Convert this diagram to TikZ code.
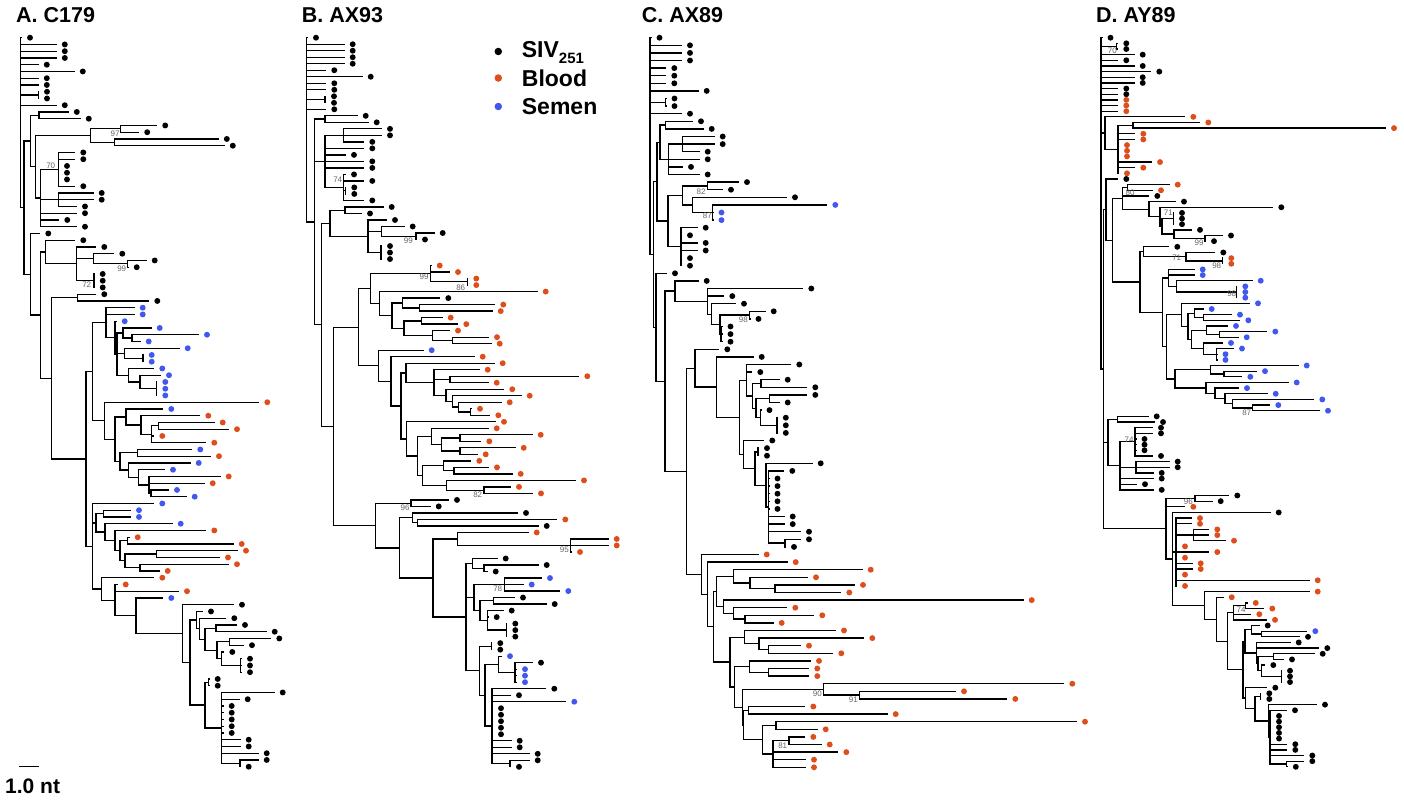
\documentclass[tikz,border=0pt]{standalone}
\usepackage{fontspec}
\setmainfont{Liberation Sans}
\usepackage{xcolor}
\usepackage{tikz}
\usetikzlibrary{positioning}

\definecolor{siv}{RGB}{0,0,0}
\definecolor{bld}{RGB}{222,78,28}
\definecolor{smn}{RGB}{64,88,238}

% leaf: attach x, row, tip x, colour
\newcommand\leafat[4]{%
  \draw[br] (#1,#2) -- (#3,#2);
  \fill[#4] (#3,#2) ++(8.5,0) circle (2.95pt);}
% clade: x, first row, last row, parent x
\newcommand\cladeat[4]{%
  \draw[br] (#1,#2) -- (#1,#3);
  \draw[br] (#4,{(#2+#3)/2}) -- (#1,{(#2+#3)/2});}

\begin{document}
\begin{tikzpicture}[
    x=1pt, y=1pt,
    br/.style={line width=1.3pt, line cap=rect},
    ttl/.style={anchor=base west, inner sep=0, font=\bfseries\fontsize{21.5}{24}\selectfont},
    lgd/.style={anchor=base west, inner sep=0, font=\bfseries\fontsize{23}{26}\selectfont},
    bs/.style={inner sep=0, text=black!60, font=\fontsize{8}{9}\selectfont},
    dot/.style={circle, inner sep=0, minimum size=7.5pt}
  ]
  \fill[white] (0,0) rectangle (1404,-800);
  \useasboundingbox (0,0) rectangle (1404,-800);

  % titles
  \node[ttl] (tA) at (16,-22.7) {A. C179};
  \node[ttl] (tB) at (301.7,-22.7) {B. AX93};
  \node[ttl] (tC) at (641.7,-22.7) {C. AX89};
  \node[ttl] (tD) at (1096,-22.7) {D. AY89};

  % legend
  \node[dot, fill=siv] (dSiv) at (498.3,-51.5) {};
  \node[dot, fill=bld] (dBld) at (498.3,-78) {};
  \node[dot, fill=smn] (dSmn) at (498.3,-106.5) {};
  \node[lgd] (lSiv) at (521.7,-57.3) {SIV\raisebox{-0.28em}{\fontsize{15}{15}\selectfont 251}};
  \node[lgd] (lBld) at (521.7,-86) {Blood};
  \node[lgd] (lSmn) at (521.7,-114.3) {Semen};

  % scale bar
  \coordinate (sb1) at (20,-766.7);
  \coordinate (sb2) at (38.3,-766.7);
  \draw[br] (sb1) -- (sb2);
  \node[anchor=base west, inner sep=0, font=\bfseries\fontsize{21}{24}\selectfont] (sbl) at (5,-793.3) {1.0 nt};

  % A. C179
  \begin{scope}[y=-6.75pt, yshift=-37.7pt]
    \draw[br] (20.7,0) -- (20.7,25.18);
    \foreach \x/\t/\b/\p in {38.3/8/9/20.7, 39/11/12/30.7, 120.7/13/14/90.7, 114.3/15/16/90.7, 90.7/13.5/15.5/35.7, 58.3/17/22/40.7, 58.3/23/25/40.7, 40.7/19.5/28/35.7, 35.7/14.5/23.75/30.7, 30.7/11.5/19.125/24,
      127.3/33/34/93.3, 94/35/37/76.7, 93.3/32/33.5/76.7, 76.7/31/36/45.7, 45.7/30/33.5/40.7, 77.3/38/39/51.7,
      132/44/45/123, 123/43/44.5/117, 143/47/48/124.7, 124.7/46/47.5/117, 156.7/51/53/140, 140/50/52/128.3, 128.3/49/51/117, 117/43.75/50/115, 115/42/46.875/106, 106/40/44.44/92.7,
      158.3/57/58/151.7, 151.7/57.5/60/141, 141/56/58.75/126, 126/55/57.375/115, 137.7/61/62/120, 151/67/68/149, 149/65/67.5/138.3, 138.3/64/66.25/128.3, 128.3/63/65.125/120, 120/61.5/64.06/115, 115/56.19/62.78/104.3, 104.3/54/59.48/92.7, 92.7/42.22/56.74/86,
      103.3/70/71/96, 127.7/74/75/120, 156.7/76/77/125, 140/78/79/125, 125/76.5/78.5/120, 120/74.5/77.5/115, 115/73/76/105, 105/72/74.5/96, 96/70.5/73.25/92.7,
      208.3/95/96/205, 240/107/108/221.7, 240.7/92/94/221.7, 221.7/91/93/217, 229.3/89/90/217, 217/89.5/92/205, 216/87/88/205, 205/87.5/90.75/199.3, 199.3/86/89.125/196.7, 196.7/85/87.56/190, 221.7/97/107.5/205, 205/95.5/102.25/190, 190/86.28/98.875/182.7, 182.7/84/92.58/136, 136/83/88.29/115, 115/81/85.65/101.7, 101.7/80/83.32/92.7, 92.7/69/81.66/86, 86/49.48/75.33/51.7, 51.7/38.5/62.4/40.7, 40.7/31.75/50.45/30.7, 30.7/29/41.1/24, 24/15.31/35.05/20.7}
      {\cladeat{\x}{\t}{\b}{\p}}
    \foreach \r/\a/\t/\c in {0/20.7/21.5/siv, 1/20.7/56.3/siv, 2/20.7/56.3/siv, 3/20.7/56.3/siv, 4/20.7/38.3/siv, 5/20.7/74.3/siv, 6/20.7/38.3/siv, 7/20.7/38.3/siv, 8/38.3/38.5/siv, 9/38.3/38.5/siv, 10/20.7/56.3/siv,
      11/39/68.3/siv, 12/39/80.3/siv, 13/120.7/156.7/siv, 14/120.7/138.7/siv, 15/114.3/218.3/siv, 16/114.3/224.3/siv,
      17/58.3/74.8/siv, 18/58.3/74.8/siv, 19/58.3/58.5/siv, 20/58.3/58.5/siv, 21/58.3/58.5/siv, 22/58.3/74.8/siv,
      23/58.3/93.2/siv, 24/58.3/93.2/siv, 25/58.3/76.5/siv, 26/40.7/76.5/siv, 27/40.7/58.8/siv, 28/40.7/76.5/siv,
      29/30.7/39.8/siv, 30/45.7/74.8/siv, 31/76.7/95.8/siv, 32/93.3/113.8/siv, 33/127.3/146.2/siv, 34/127.3/128.2/siv,
      35/94/94.2/siv, 36/94/94.2/siv, 37/94/94.2/siv, 38/77.3/95.8/siv, 39/77.3/148.8/siv,
      40/106/134.2/smn, 41/106/134.2/smn, 42/115/116.2/smn, 43/123/151.2/smn, 44/132/198.5/smn, 45/132/140.2/smn, 46/124.7/179.2/smn, 47/143/143.2/smn, 48/143/143.2/smn, 49/128.3/153.8/smn, 50/140/160.5/smn, 51/156.7/156.8/smn, 52/156.7/156.8/smn, 53/156.7/156.8/smn,
      54/104.3/258.8/bld, 55/126/162.8/smn, 56/141/199.8/bld, 57/158.3/214.2/bld, 58/158.3/228.5/bld, 59/151.7/153.8/bld, 60/151.7/205.8/bld, 61/137.7/191.8/smn, 62/137.7/210.5/bld, 63/128.3/190.2/smn, 64/138.3/164.5/smn, 65/149/220.2/bld, 66/149/204.2/bld, 67/151/168.5/smn, 68/151/186.2/smn,
      69/92.7/153.8/smn, 70/103.3/130.5/smn, 71/103.3/130.5/smn, 72/105/172.2/smn, 73/115/205.8/bld, 74/127.7/129.2/bld, 75/127.7/233.2/bld, 76/156.7/237.5/bld, 77/156.7/219.5/bld, 78/140/228.5/bld, 79/140/159.2/bld, 80/101.7/153.8/bld, 81/115/117.2/bld, 82/115/178.5/bld, 83/136/162.8/smn,
      84/182.7/233.5/siv, 85/196.7/202.5/siv, 86/199.3/225.8/siv, 87/216/236.5/siv, 88/216/266.2/siv, 89/229.3/270.8/siv, 90/229.3/243.5/siv, 91/221.7/223.8/siv, 92/240.7/241.5/siv, 93/240.7/241.5/siv, 94/240.7/241.5/siv, 95/208.3/209.2/siv, 96/208.3/209.2/siv, 97/221.7/274.2/siv, 98/221.7/239.2/siv, 99/221.7/223.2/siv, 100/221.7/223.2/siv, 101/221.7/223.2/siv, 102/221.7/223.2/siv, 103/221.7/223.2/siv, 104/221.7/240.2/siv, 105/221.7/240.2/siv, 106/221.7/258.2/siv, 107/240/258.2/siv, 108/240/240.2/siv}
      {\leafat{\a}{\r}{\t}{\c}}
  \end{scope}
  \node[bs] (bA1) at (115,-134) {97};
  \node[bs] (bA2) at (50.7,-165.7) {70};
  \node[bs] (bA3) at (121.7,-268.3) {99};
  \node[bs] (bA4) at (86.7,-285) {72};

  % B. AX93
  \begin{scope}[y=-6.51pt, yshift=-37.7pt]
    \draw[br] (306.7,0) -- (306.7,28.3);
    \foreach \x/\t/\b/\p in {325/9/10/306.7, 325/12/13/314.3, 343.3/14/16/325, 345.5/23/24/343.3, 343.3/21/25/325, 325/15/23/314.3, 345/26/27/330, 416/30/31/381.7, 381.7/29/30.5/368, 381/32/34/368, 368/28/33/330, 330/26.5/30.5/321.7,
      467.3/37/38/430.7, 430.7/35/37.5/370.7, 419.3/41/42/402.7, 402.7/40/41.5/392, 421.7/43/44/404, 452.7/46/47/432.3, 432.3/45/46.5/404, 404/43.5/45.75/392, 392/40.75/44.625/379.3, 379.3/39/42.69/370.7, 370.7/36.25/40.84/358.7,
      450/52/53/434, 470.7/57/58/458.3, 458.3/56/57.5/452.7, 452.7/55/56.75/446, 446/54/55.875/434, 434/51/54.94/406, 406/50/52.97/401, 460/61/62/441.7, 460/63/64/441.7, 441.7/61.5/63.5/431.7, 431.7/60/62.5/417.3, 454/66/67/443.3, 443.3/65/66.5/422.7, 484/69/70/446.7, 446.7/68/69.5/422.7, 422.7/65.75/68.75/417.3, 417.3/61.25/67.25/406.7, 406.7/59/64.25/401, 401/51.49/61.625/391, 391/49/56.56/378.3, 378.3/48/52.78/358.7, 358.7/38.55/50.39/333.3,
      411/71/72/375.7, 417.3/74/75/412.7, 412.7/73/74.5/399.3, 570.7/77/79/457.7, 457.7/76/78/433, 484/81/82/472.7, 472.7/80/81.5/466, 504.3/83/85/474, 493.3/86/87/480, 506.5/90/92/487.3, 487.3/88/91/480, 480/86.5/89.5/474, 474/84/88/466, 491.5/93/94/479.3, 515/96/99/498.3, 498.3/95/97.5/485, 510/111/112/492, 492/100/111.5/485, 485/96.25/105.75/479.3, 479.3/93.5/101/466, 466/80.75/97.25/433, 433/77/89/399.3, 399.3/73.75/83/375.7, 375.7/71.5/78.375/333.3, 333.3/44.47/74.94/321.7, 321.7/28.5/59.7/314.3, 314.3/12.5/44.1/306.7}
      {\cladeat{\x}{\t}{\b}{\p}}
    \foreach \r/\a/\t/\c in {0/306.7/307.5/siv, 1/306.7/344.2/siv, 2/306.7/344.2/siv, 3/306.7/344.2/siv, 4/306.7/344.2/siv, 5/306.7/325.8/siv, 6/306.7/362.2/siv, 7/306.7/325.8/siv, 8/306.7/325.8/siv, 9/325/325.5/siv, 10/325/325.5/siv, 11/306.7/325.8/siv,
      12/325/357.2/siv, 13/325/368.2/siv, 14/343.3/381.5/siv, 15/343.3/381.5/siv, 16/343.3/363.8/siv, 17/325/363.8/siv, 18/325/345.5/siv, 19/325/363.8/siv, 20/325/363.8/siv, 21/343.3/345.5/siv, 22/343.3/363.8/siv, 23/345.5/345.8/siv, 24/345.5/345.8/siv, 25/343.3/363.8/siv,
      26/345/383.2/siv, 27/345/361.5/siv, 28/368/386.5/siv, 29/381.7/404.2/siv, 30/416/434.2/siv, 31/416/416.5/siv, 32/381/381.5/siv, 33/381/381.5/siv, 34/381/381.5/siv,
      35/430.7/431.2/bld, 36/430.7/449.5/bld, 37/467.3/467.8/bld, 38/467.3/467.8/bld, 39/379.3/537.2/bld, 40/402.7/439.8/siv, 41/419.3/494.8/bld, 42/419.3/492.2/bld, 43/421.7/442.2/bld, 44/421.7/457.8/bld, 45/432.3/449.5/bld, 46/452.7/488.5/bld, 47/452.7/491.2/bld,
      48/378.3/423.2/smn, 49/391/474.2/bld, 50/406/494.2/bld, 51/434/479.2/bld, 52/450/578.8/bld, 53/450/488.2/bld, 54/446/503.8/bld, 55/452.7/521.2/bld, 56/458.3/501.2/bld, 57/470.7/471.5/bld, 58/470.7/489.8/bld, 59/406.7/495.5/bld, 60/431.7/488.2/bld, 61/460/532.2/bld, 62/460/480.8/bld, 63/460/515.2/bld, 64/460/477.2/bld, 65/443.3/470.8/bld, 66/454/488.5/bld, 67/454/512.2/bld, 68/446.7/575.5/bld, 69/484/510.5/bld, 70/484/532.5/bld,
      71/411/448.5/siv, 72/411/430.2/siv, 73/412.7/517.5/siv, 74/417.3/556.8/bld, 75/417.3/538.2/siv, 76/457.7/528.2/bld, 77/570.7/608.2/bld, 78/570.7/608.2/bld, 79/570.7/571.5/bld, 80/472.7/497.2/siv, 81/484/538.2/siv, 82/484/487.2/siv, 83/504.3/541.5/smn, 84/504.3/523.2/smn, 85/504.3/559.8/smn, 86/493.3/514.5/siv, 87/493.3/546.2/siv, 88/487.3/503.2/siv, 89/487.3/488.2/siv, 90/506.5/506.8/siv, 91/506.5/506.8/siv, 92/506.5/506.8/siv, 93/491.5/491.8/siv, 94/491.5/491.8/siv, 95/498.3/501.5/smn, 96/515/532.5/siv, 97/515/516.5/smn, 98/515/516.5/smn, 99/515/516.5/smn, 100/492/545.8/siv, 101/492/510.5/siv, 102/492/565.8/smn, 103/492/492.5/siv, 104/492/492.5/siv, 105/492/492.5/siv, 106/492/492.5/siv, 107/492/492.5/siv, 108/492/511.2/siv, 109/492/511.2/siv, 110/492/529.2/siv, 111/510/529.2/siv, 112/510/510.5/siv}
      {\leafat{\a}{\r}{\t}{\c}}
  \end{scope}
  \node[bs] (bB1) at (337.7,-180) {74};
  \node[bs] (bB2) at (408.3,-240.7) {99};
  \node[bs] (bB3) at (424,-276.7) {99};
  \node[bs] (bB4) at (460.7,-287.3) {86};
  \node[bs] (bB5) at (477.7,-495) {82};
  \node[bs] (bB6) at (405,-507.3) {96};
  \node[bs] (bB7) at (564.3,-550) {95};
  \node[bs] (bB8) at (497.7,-588.3) {78};

  % C. AX89
  \begin{scope}[y=-7.6pt, yshift=-37.7pt]
    \draw[br] (650,0) -- (650,28.52);
    \foreach \x/\t/\b/\p in {665.7/8/9/650, 665.7/11/12/660, 682.7/13/15/668.3, 668.3/14/18/660, 660/11.5/16/657, 707.3/19/20/682.7, 712.7/22/24/692.7, 692.7/21/23/682.7, 682.7/19.5/22/668, 681/25/30/668, 668/20.75/27.5/657, 657/13.75/24.125/653.3,
      749.3/36/37/720, 721/38/40/720, 720/36.5/39/711.7, 711.7/35/37.75/707.3, 707.3/33/36.375/675, 675/32/34.69/665,
      761/45/46/752.3, 769.3/47/48/756, 777/50/52/760.7, 760.7/49/51/756, 756/47.5/50/752.3, 752.3/45.5/48.75/746.7, 746.7/43/47.125/739.3, 785/66/67/768.3, 768.3/57/66.5/766, 766/56/61.75/755, 758/54/55/755, 755/54.5/58.875/743.3, 743.3/53/56.69/739.3, 739.3/45.06/54.84/716.7, 716.7/42/49.95/695, 695/41/45.98/686.7,
      775/72/73/750, 750/71/72.5/733.3, 733.3/70/71.75/716.7, 745/76/77/733.3, 733.3/75/76.5/723.3, 723.3/74/75.75/716.7, 716.7/70.875/74.875/713.3, 768.3/80/81/759, 759/79/80.5/744.3, 744.3/78/79.75/730, 768.3/83/84/749.3, 749.3/82/83.5/734.3, 859.7/86/87/823.3, 823.3/85/86.5/742.3, 748.7/88/89/743.3, 776/90/91/762.7, 789/92/93/773, 773/92.5/96/762.7, 762.7/90.5/94.25/743.3, 743.3/88.5/92.375/742.3, 742.3/85.75/90.44/734.3, 734.3/82.75/88.1/730, 730/78.875/85.42/713.3, 713.3/72.875/82.15/707.7, 707.7/69/77.51/701.7, 701.7/68/73.26/686.7, 686.7/43.49/70.63/665, 665/33.34/57.06/656, 656/31/45.2/653.3, 653.3/18.94/38.1/650}
      {\cladeat{\x}{\t}{\b}{\p}}
    \foreach \r/\a/\t/\c in {0/650/651/siv, 1/650/681.5/siv, 2/650/681.5/siv, 3/650/681.5/siv, 4/650/665.8/siv, 5/650/665.8/siv, 6/650/665.8/siv, 7/650/698.2/siv, 8/665.7/666/siv, 9/665.7/666/siv, 10/650/681.5/siv,
      11/665.7/692.5/siv, 12/665.7/703.2/siv, 13/682.7/714.2/siv, 14/682.7/714.2/siv, 15/682.7/699.2/siv, 16/668.3/699.2/siv, 17/668.3/682.5/siv, 18/668.3/699.2/siv, 19/707.3/738.5/siv, 20/707.3/722.5/siv, 21/692.7/786.5/siv, 22/712.7/826.8/smn, 23/712.7/713/smn, 24/712.7/713/smn,
      25/681/697.2/siv, 26/681/681.5/siv, 27/681/697.2/siv, 28/681/697.2/siv, 29/681/681.5/siv, 30/681/681.5/siv, 31/656/666.5/siv, 32/675/698.2/siv, 33/707.3/802.8/siv, 34/707.3/723.8/siv, 35/711.7/735.5/siv, 36/749.3/765.2/siv, 37/749.3/750/siv, 38/721/722/siv, 39/721/722/siv, 40/721/722/siv,
      41/695/718.8/siv, 42/716.7/753.2/siv, 43/746.7/790.8/siv, 44/746.7/751.8/siv, 45/761/779.2/siv, 46/761/806.8/siv, 47/769.3/806.8/siv, 48/769.3/779.2/siv, 49/760.7/761/siv, 50/777/777.3/siv, 51/777/777.3/siv, 52/777/777.3/siv, 53/743.3/763.8/siv, 54/758/758.5/siv, 55/758/758.5/siv, 56/766/812.2/siv, 57/768.3/783.8/siv, 58/768.3/769/siv, 59/768.3/769/siv, 60/768.3/769/siv, 61/768.3/769/siv, 62/768.3/769/siv, 63/768.3/784.2/siv, 64/768.3/784.2/siv, 65/768.3/800.5/siv, 66/785/800.5/siv, 67/785/785.5/siv,
      68/701.7/758.2/bld, 69/707.7/787.2/bld, 70/733.3/862.2/bld, 71/750/807.5/bld, 72/775/854.5/bld, 73/775/840.8/bld, 74/723.3/1023.2/bld, 75/733.3/786.8/bld, 76/745/813.8/bld, 77/745/773.2/bld, 78/744.3/835.5/bld, 79/759/863.8/bld, 80/768.3/800.5/bld, 81/768.3/832.8/bld, 82/749.3/810.5/bld, 83/768.3/808.8/bld, 84/768.3/808.8/bld, 85/823.3/1063.8/bld, 86/859.7/955.5/bld, 87/859.7/1006.8/bld, 88/748.7/804.8/bld, 89/748.7/887.2/bld, 90/776/1076.5/bld, 91/776/817.2/bld, 92/789/804.8/bld, 93/789/821.2/bld, 94/773/837.8/bld, 95/773/805.5/bld, 96/773/805.5/bld}
      {\leafat{\a}{\r}{\t}{\c}}
  \end{scope}
  \node[bs] (bC1) at (701,-191.7) {82};
  \node[bs] (bC2) at (707.3,-216) {87};
  \node[bs] (bC3) at (743.3,-320) {98};
  \node[bs] (bC4) at (817.3,-693.3) {90};
  \node[bs] (bC5) at (853.3,-700) {91};
  \node[bs] (bC6) at (782.7,-745.7) {81};

  % D. AY89
  \begin{scope}[y=-5.652pt, yshift=-37.7pt]
    \draw[br] (1101,0) -- (1101,58.6);
    \foreach \x/\t/\b/\p in {1116.7/1/2/1101, 1133/15/16/1118, 1118/15.5/24/1105, 1105/14/19.75/1101,
      1127.3/26/27/1122.3, 1205/35/36/1174, 1174/34/35.5/1162, 1173.3/31/33/1162, 1162/32/34.75/1160, 1160/30/33.375/1149, 1149/29/31.69/1122.3, 1122.3/26.5/30.34/1112.3, 1222.5/39/40/1186, 1186/38/39.5/1143.3, 1143.3/37/38.75/1140,
      1236.5/44/46/1176.7, 1176.7/43/45/1168.3, 1168.3/41/44/1162.7, 1203.3/49/50/1194.3, 1194.3/48/49.5/1188, 1219.3/52/53/1206.7, 1206.7/51/52.5/1191.7, 1216.7/55/57/1203.3, 1203.3/54/56/1191.7, 1191.7/51.75/55/1188, 1188/48.75/53.375/1181.7, 1181.7/47/51.06/1166.7, 1224/59/60/1210.7, 1210.7/58/59.5/1175, 1252.7/65/66/1232.7, 1232.7/64/65.5/1225, 1225/63/64.75/1215, 1215/62/63.875/1206, 1206/61/62.94/1175, 1175/58.75/61.97/1166.7, 1166.7/49.03/60.36/1162.7, 1162.7/42.5/54.69/1140, 1140/37.875/48.6/1112.3, 1112.3/28.42/43.24/1106, 1106/25/35.83/1103.3,
      1117.3/67/68/1108, 1135/69/74/1120, 1136/75/77/1120, 1120/71.5/80/1108, 1108/67.5/75.75/1103.3,
      1195/81/82/1166, 1193.3/87/89/1176, 1176/85/97/1172.7, 1245.7/100/101/1233.3, 1233.3/100.5/103/1227.7, 1261.7/105/106/1251.7, 1251.7/104/105.5/1245, 1281.2/112/114/1261.7, 1273.3/109/110/1258, 1261.7/111/113/1258, 1258/109.5/112/1256.7, 1256.7/107/110.75/1245, 1245/104.75/108.875/1243, 1286.7/128/129/1270, 1270/119/128.5/1268.3, 1268.3/118/123.75/1255, 1260.5/116/117/1255, 1255/116.5/120.875/1245.7, 1245.7/115/118.69/1243, 1243/106.81/116.84/1227.7, 1227.7/101.75/111.83/1216.7, 1216.7/99/106.79/1204.3, 1204.3/98/102.9/1172.7, 1172.7/84/100.45/1166, 1166/81.5/92.2/1103.3, 1103.3/30.42/86.85/1101}
      {\cladeat{\x}{\t}{\b}{\p}}
    \foreach \r/\a/\t/\c in {0/1101/1102/siv, 1/1116.7/1117.8/siv, 2/1116.7/1117.8/siv, 3/1101/1134.2/siv, 4/1101/1117.8/siv, 5/1101/1134.2/siv, 6/1101/1150.8/siv, 7/1101/1134.2/siv, 8/1101/1134.2/siv, 9/1101/1117.8/siv, 10/1101/1117.8/siv, 11/1101/1117.8/bld, 12/1101/1117.8/bld, 13/1101/1117.8/bld,
      14/1105/1184.8/bld, 15/1133/1199.8/bld, 16/1133/1385.5/bld, 17/1118/1134.8/bld, 18/1118/1134.8/bld, 19/1118/1118.5/bld, 20/1118/1118.5/bld, 21/1118/1118.5/bld, 22/1118/1151.5/bld, 23/1118/1134.8/bld, 24/1118/1118.5/bld,
      25/1106/1117.8/siv, 26/1127.3/1169.2/bld, 27/1127.3/1152.5/bld, 28/1122.3/1148.8/siv, 29/1149/1175.5/siv, 30/1160/1272.8/siv, 31/1173.3/1173.5/siv, 32/1173.3/1173.5/siv, 33/1173.3/1173.5/siv, 34/1174/1191.5/siv, 35/1205/1222.5/siv, 36/1205/1205.5/siv, 37/1143.3/1168.8/siv, 38/1186/1214.8/siv, 39/1222.5/1222.8/bld, 40/1222.5/1222.8/bld,
      41/1168.3/1194.2/smn, 42/1168.3/1194.2/smn, 43/1176.7/1252.2/smn, 44/1236.5/1236.8/smn, 45/1236.5/1236.8/smn, 46/1236.5/1236.8/smn, 47/1181.7/1249.5/smn, 48/1194.3/1203.2/smn, 49/1203.3/1231.5/smn, 50/1203.3/1239.8/smn, 51/1206.7/1227.5/smn, 52/1219.3/1266.8/smn, 53/1219.3/1238.2/smn, 54/1203.3/1222.5/smn, 55/1216.7/1233.5/smn, 56/1216.7/1217/smn, 57/1216.7/1217/smn, 58/1210.7/1298.2/smn, 59/1224/1256.5/smn, 60/1224/1241.8/smn, 61/1206/1288.2/smn, 62/1215/1238.5/smn, 63/1225/1267.2/smn, 64/1232.7/1313.8/smn, 65/1252.7/1269.8/smn, 66/1252.7/1319.5/smn,
      67/1117.3/1148.2/siv, 68/1117.3/1154.5/siv, 69/1135/1152.5/siv, 70/1135/1152.5/siv, 71/1135/1136/siv, 72/1135/1136/siv, 73/1135/1136/siv, 74/1135/1152.5/siv, 75/1136/1169.2/siv, 76/1136/1169.2/siv, 77/1136/1153.2/siv, 78/1120/1153.2/siv, 79/1120/1136.5/siv, 80/1120/1153.2/siv,
      81/1195/1228.8/siv, 82/1195/1212.2/siv, 83/1166/1184.8/bld, 84/1172.7/1270.2/siv, 85/1176/1191.5/bld, 86/1176/1191.5/bld, 87/1193.3/1208.8/bld, 88/1193.3/1208.8/bld, 89/1193.3/1225.5/bld, 90/1176/1176.5/bld, 91/1176/1208.8/bld, 92/1176/1176.5/bld, 93/1176/1192.2/bld, 94/1176/1192.2/bld, 95/1176/1176.5/bld, 96/1176/1309.2/bld, 97/1176/1176.5/bld, 98/1204.3/1309.2/bld, 99/1216.7/1223.2/bld, 100/1245.7/1247.2/bld, 101/1245.7/1263.8/bld, 102/1233.3/1250.8/bld, 103/1233.3/1266.5/bld,
      104/1251.7/1259.2/siv, 105/1261.7/1306.8/smn, 106/1261.7/1299.5/siv, 107/1256.7/1290.2/siv, 108/1256.7/1318.8/siv, 109/1273.3/1314.2/siv, 110/1273.3/1283.5/siv, 111/1261.7/1264.8/siv, 112/1281.2/1281.5/siv, 113/1281.2/1281.5/siv, 114/1281.2/1281.5/siv, 115/1245.7/1266.8/siv, 116/1260.5/1260.8/siv, 117/1260.5/1260.8/siv, 118/1268.3/1316.5/siv, 119/1270/1286.5/siv, 120/1270/1270.5/siv, 121/1270/1270.5/siv, 122/1270/1270.5/siv, 123/1270/1270.5/siv, 124/1270/1270.5/siv, 125/1270/1286.8/siv, 126/1270/1286.8/siv, 127/1270/1303.8/siv, 128/1286.7/1303.8/siv, 129/1286.7/1287.3/siv}
      {\leafat{\a}{\r}{\t}{\c}}
  \end{scope}
  \node[bs] (bD1) at (1112.3,-51) {70};
  \node[bs] (bD2) at (1130,-192.3) {80};
  \node[bs] (bD3) at (1168.3,-212.3) {71};
  \node[bs] (bD4) at (1199,-242.3) {99};
  \node[bs] (bD5) at (1176.7,-257.3) {71};
  \node[bs] (bD6) at (1216.7,-265.7) {98};
  \node[bs] (bD7) at (1231.7,-293.3) {98};
  \node[bs] (bD8) at (1246.7,-412.7) {87};
  \node[bs] (bD9) at (1129,-439.3) {74};
  \node[bs] (bD10) at (1188.3,-501.7) {96};
  \node[bs] (bD11) at (1241,-610) {74};
\end{tikzpicture}
\end{document}
